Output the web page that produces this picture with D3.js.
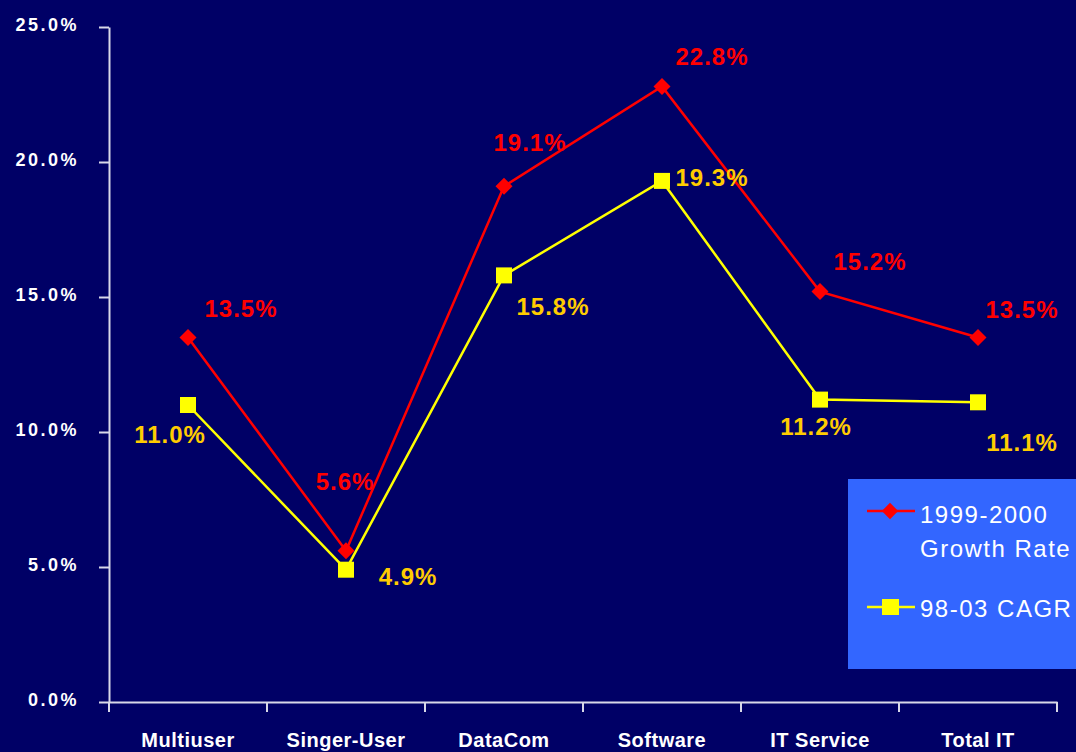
<!DOCTYPE html>
<html>
<head>
<meta charset="utf-8">
<script src="https://cdn.jsdelivr.net/npm/d3@7"></script>
<style>
  html, body { margin: 0; padding: 0; background: #000066; }
  svg { display: block; }
</style>
</head>
<body>
<div id="main"></div>
<script>
// data
const categories = ["Multiuser", "Singer-User", "DataCom", "Software", "IT Service", "Total IT"];
const growthRate = [13.5, 5.6, 19.1, 22.8, 15.2, 13.5];   // 1999-2000 Growth Rate
const cagr = [11.0, 4.9, 15.8, 19.3, 11.2, 11.1];         // 98-03 CAGR
const yTicks = [0, 5, 10, 15, 20, 25];

// label offsets (placed by hand on the original slide)
const growthLabelOffset = [[53, -29], [-1, -69], [26, -44], [50, -30], [50, -30], [44, -28]];
const cagrLabelOffset = [[-18, 29], [62, 7], [49, 31], [50, -3], [-4, 27], [44, 40]];

const W = 1076, H = 752;
const margin = {top: 27, right: 19, bottom: 50, left: 109};
const width = W - margin.left - margin.right,
      height = H - margin.top - margin.bottom;

const font = "'Liberation Sans', Arial, sans-serif";

const svg = d3.select("#main")
  .append("svg")
    .attr("width", W)
    .attr("height", H)
    .style("background", "#000066");

const g = svg.append("g")
  .attr("transform", `translate(${margin.left},${margin.top})`);

const x = d3.scaleBand().domain(categories).range([0, width]);
const y = d3.scaleLinear().domain([0, 25]).range([height, 0]);

const axisColor = "#d8d8e8";

// y axis
const yAxis = g.append("g")
  .call(d3.axisLeft(y).tickValues(yTicks).tickSize(10).tickSizeOuter(0)
    .tickFormat(d => d3.format(".1f")(d) + "%"));
yAxis.select(".domain").attr("stroke", axisColor).attr("stroke-width", 2);
yAxis.selectAll(".tick line").attr("stroke", axisColor).attr("stroke-width", 2);
yAxis.selectAll(".tick text")
  .attr("x", -30)
  .attr("dy", "0.22em")
  .attr("fill", "#ffffff")
  .style("font-family", font)
  .style("font-weight", "bold")
  .style("font-size", "18px")
  .style("letter-spacing", "2.5px");

// x axis
const xAxis = g.append("g")
  .attr("transform", `translate(0,${height})`)
  .call(d3.axisBottom(x).tickSize(0).tickSizeOuter(0));
xAxis.select(".domain").attr("stroke", axisColor).attr("stroke-width", 2);
xAxis.selectAll(".tick text")
  .attr("y", 31)
  .attr("fill", "#ffffff")
  .style("font-family", font)
  .style("font-weight", "bold")
  .style("font-size", "20px")
  .style("letter-spacing", "0.5px");

// category boundary ticks
const bounds = categories.map(c => x(c)).concat([width]);
g.append("g").selectAll("line")
  .data(bounds)
  .join("line")
    .attr("x1", d => d).attr("x2", d => d)
    .attr("y1", height).attr("y2", height + 10)
    .attr("stroke", axisColor).attr("stroke-width", 2);

const cx = (d, i) => x(categories[i]) + x.bandwidth() / 2;

const line = d3.line()
  .x((d, i) => cx(d, i))
  .y(d => y(d));

// CAGR series (yellow)
g.append("path")
  .datum(cagr)
  .attr("d", line)
  .attr("fill", "none")
  .attr("stroke", "#ffff00")
  .attr("stroke-width", 2.5);

// Growth series (red)
g.append("path")
  .datum(growthRate)
  .attr("d", line)
  .attr("fill", "none")
  .attr("stroke", "#ff0000")
  .attr("stroke-width", 2.5);

g.selectAll(".sq")
  .data(cagr)
  .join("rect")
    .attr("class", "sq")
    .attr("x", (d, i) => cx(d, i) - 8)
    .attr("y", d => y(d) - 8)
    .attr("width", 16).attr("height", 16)
    .attr("fill", "#ffff00");

g.selectAll(".dm")
  .data(growthRate)
  .join("path")
    .attr("class", "dm")
    .attr("d", d3.symbol().type(d3.symbolDiamond2).size(185))
    .attr("transform", (d, i) => `translate(${cx(d, i)},${y(d)})`)
    .attr("fill", "#ff0000");

const labelStyle = sel => sel
  .attr("text-anchor", "middle")
  .attr("dominant-baseline", "central")
  .style("font-family", font)
  .style("font-weight", "bold")
  .style("font-size", "24px")
  .style("letter-spacing", "1px");

g.selectAll(".glab")
  .data(growthRate)
  .join("text")
    .attr("class", "glab")
    .attr("x", (d, i) => cx(d, i) + growthLabelOffset[i][0])
    .attr("y", (d, i) => y(d) + growthLabelOffset[i][1])
    .attr("fill", "#ff0000")
    .text(d => d.toFixed(1) + "%")
    .call(labelStyle);

g.selectAll(".clab")
  .data(cagr)
  .join("text")
    .attr("class", "clab")
    .attr("x", (d, i) => cx(d, i) + cagrLabelOffset[i][0])
    .attr("y", (d, i) => y(d) + cagrLabelOffset[i][1])
    .attr("fill", "#ffcc00")
    .text(d => d.toFixed(1) + "%")
    .call(labelStyle);

// legend
const legend = svg.append("g").attr("transform", "translate(848,479)");
legend.append("rect")
  .attr("width", 232).attr("height", 190)
  .attr("fill", "#3366ff");

const legendFont = sel => sel
  .attr("fill", "#ffffff")
  .style("font-family", font)
  .style("font-size", "24px")
  .style("letter-spacing", "1.5px");

legend.append("line")
  .attr("x1", 19).attr("x2", 67).attr("y1", 32).attr("y2", 32)
  .attr("stroke", "#ff0000").attr("stroke-width", 2.5);
legend.append("path")
  .attr("d", d3.symbol().type(d3.symbolDiamond2).size(170))
  .attr("transform", "translate(42,32)")
  .attr("fill", "#ff0000");
legend.append("text").attr("x", 72).attr("y", 44).text("1999-2000").call(legendFont);
legend.append("text").attr("x", 72).attr("y", 78).text("Growth Rate").call(legendFont);

legend.append("line")
  .attr("x1", 19).attr("x2", 67).attr("y1", 128).attr("y2", 128)
  .attr("stroke", "#ffff00").attr("stroke-width", 2.5);
legend.append("rect")
  .attr("x", 34).attr("y", 120).attr("width", 17).attr("height", 16)
  .attr("fill", "#ffff00");
legend.append("text").attr("x", 72).attr("y", 138).text("98-03 CAGR").call(legendFont);
</script>
</body>
</html>
